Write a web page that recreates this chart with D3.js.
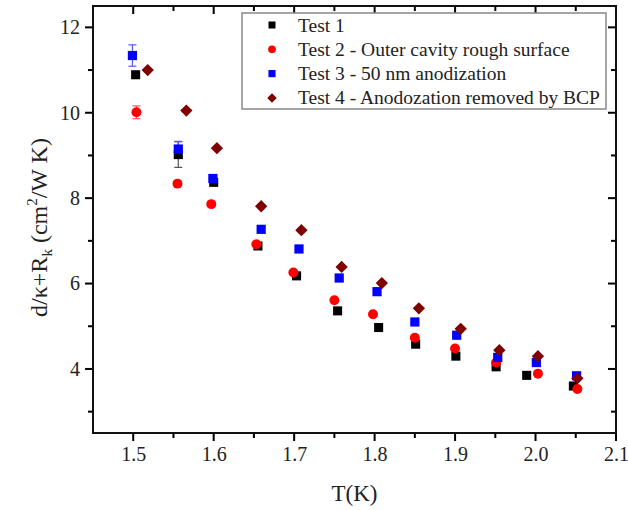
<!DOCTYPE html>
<html lang="en">
<head>
  <meta charset="UTF-8">
  <title>d/k+Rk vs T</title>
  <style>
    body { margin: 0; background: #fff; }
    svg text { font-family: 'Liberation Serif', 'Times New Roman', serif; fill: #222; }
  </style>
</head>
<body>
  <div class="canvas"></div>

  <script src="https://cdnjs.cloudflare.com/ajax/libs/d3/7.8.5/d3.min.js"></script>
  <script>
// data
const test1T = [1.503, 1.556, 1.600, 1.655, 1.703, 1.754, 1.805, 1.851, 1.901, 1.951, 1.989, 2.047];
const test1Y = [10.89, 9.02, 8.37, 6.88, 6.18, 5.36, 4.97, 4.58, 4.30, 4.05, 3.85, 3.60];
const test1Err = [0.05, 0.30, 0.05, 0, 0, 0, 0, 0, 0, 0, 0, 0];

const test2T = [1.504, 1.555, 1.597, 1.653, 1.699, 1.750, 1.798, 1.850, 1.900, 1.951, 2.003, 2.052];
const test2Y = [10.01, 8.34, 7.86, 6.92, 6.26, 5.61, 5.28, 4.73, 4.48, 4.15, 3.89, 3.53];
const test2Err = [0.15, 0, 0, 0, 0, 0, 0, 0, 0, 0, 0, 0];

const test3T = [1.499, 1.556, 1.599, 1.659, 1.706, 1.756, 1.803, 1.850, 1.902, 1.953, 2.001, 2.051];
const test3Y = [11.34, 9.15, 8.46, 7.27, 6.81, 6.13, 5.81, 5.10, 4.79, 4.27, 4.15, 3.84];
const test3Err = [0.25, 0.18, 0, 0, 0, 0, 0, 0, 0, 0, 0, 0];

const test4T = [1.518, 1.566, 1.604, 1.659, 1.709, 1.759, 1.809, 1.855, 1.907, 1.955, 2.003, 2.052];
const test4Y = [11.00, 10.05, 9.17, 7.81, 7.25, 6.39, 6.01, 5.42, 4.94, 4.44, 4.30, 3.78];

const seriesNames = [
  'Test 1',
  'Test 2 - Outer cavity rough surface',
  'Test 3 - 50 nm anodization',
  'Test 4 - Anodozation removed by BCP'
];
const xTicks = [1.5, 1.6, 1.7, 1.8, 1.9, 2.0, 2.1];
const xMinor = [1.55, 1.65, 1.75, 1.85, 1.95, 2.05];
const yTicks = [4, 6, 8, 10, 12];
const yMinor = [3, 5, 7, 9, 11];

const colors = ['#000000', '#ff0000', '#0000ff', '#800000'];
const errColors = ['#555555', '#ff5555', '#5555ff', '#800000'];
// diamond = square turned 45 degrees
const shapes = [d3.symbolSquare, d3.symbolCircle, d3.symbolSquare, d3.symbolSquare];
const turns = [0, 0, 0, 45];
const sizes = [82, 78, 85, 76];

const series = [
  { t: test1T, y: test1Y, err: test1Err },
  { t: test2T, y: test2Y, err: test2Err },
  { t: test3T, y: test3Y, err: test3Err },
  { t: test4T, y: test4Y, err: test4Y.map(() => 0) }
];

const width = 628, height = 510;
const margin = { left: 93, right: 12, top: 6, bottom: 77 };

const svg = d3.select('.canvas').append('svg')
  .attr('width', width)
  .attr('height', height);

const x = d3.scaleLinear().domain([1.45, 2.1]).range([margin.left, width - margin.right]);
const y = d3.scaleLinear().domain([2.5, 12.5]).range([height - margin.bottom, margin.top]);

const x0 = margin.left, x1 = width - margin.right;
const y0 = height - margin.bottom, y1 = margin.top;

// tick labels from d3 axes
const gx = svg.append('g').attr('transform', `translate(0, ${y0})`)
  .call(d3.axisBottom(x).tickValues(xTicks).tickFormat(d3.format('.1f')).tickSize(0).tickPadding(14));
const gy = svg.append('g').attr('transform', `translate(${x0}, 0)`)
  .call(d3.axisLeft(y).tickValues(yTicks).tickFormat(d3.format('d')).tickSize(0).tickPadding(13));
[gx, gy].forEach(g => {
  g.select('.domain').remove();
  g.selectAll('.tick text').style('font-size', '20px').attr('fill', '#222');
});

// tick marks as small filled bars: outward on bottom/left, inward on top/right
const ticks = svg.append('g').attr('fill', '#000');
function xMarks(vals, len) {
  ticks.append('g').selectAll('rect').data(vals).join('rect')
    .attr('x', d => x(d) - 1).attr('y', y0).attr('width', 2).attr('height', len);
  ticks.append('g').selectAll('rect').data(vals).join('rect')
    .attr('x', d => x(d) - 1).attr('y', y1).attr('width', 2).attr('height', len);
}
function yMarks(vals, len) {
  ticks.append('g').selectAll('rect').data(vals).join('rect')
    .attr('x', x0 - len).attr('y', d => y(d) - 1).attr('width', len).attr('height', 2);
  ticks.append('g').selectAll('rect').data(vals).join('rect')
    .attr('x', x1 - len).attr('y', d => y(d) - 1).attr('width', len).attr('height', 2);
}
xMarks(xTicks, 8);
xMarks(xMinor, 5);
yMarks(yTicks, 8);
yMarks(yMinor, 5);

// frame
svg.append('rect')
  .attr('x', x0).attr('y', y1)
  .attr('width', x1 - x0).attr('height', y0 - y1)
  .attr('fill', 'none')
  .attr('stroke', '#111')
  .attr('stroke-width', 2);

// error bars
series.forEach((s, i) => {
  const g = svg.append('g');
  s.t.forEach((t, j) => {
    const e = s.err[j];
    if (!e) return;
    const cx = x(t);
    g.append('line')
      .attr('x1', cx).attr('x2', cx)
      .attr('y1', y(s.y[j] - e)).attr('y2', y(s.y[j] + e))
      .attr('stroke', errColors[i]).attr('stroke-width', 1.2);
    [s.y[j] - e, s.y[j] + e].forEach(v => {
      g.append('line')
        .attr('x1', cx - 4).attr('x2', cx + 4)
        .attr('y1', y(v)).attr('y2', y(v))
        .attr('stroke', errColors[i]).attr('stroke-width', 1.2);
    });
  });
});

// markers
series.forEach((s, i) => {
  svg.append('g').selectAll('path')
    .data(s.t.map((t, j) => [t, s.y[j]]))
    .join('path')
    .attr('transform', d => `translate(${x(d[0])}, ${y(d[1])}) rotate(${turns[i]})`)
    .attr('d', d3.symbol().type(shapes[i]).size(sizes[i]))
    .attr('fill', colors[i]);
});

// legend
const legend = svg.append('g');
legend.append('rect')
  .attr('x', 242).attr('y', 13)
  .attr('width', 364).attr('height', 96)
  .attr('fill', '#fff')
  .attr('stroke', '#888')
  .attr('stroke-width', 1.5);

seriesNames.forEach((name, i) => {
  const ly = 25 + i * 24.3;
  legend.append('path')
    .attr('transform', `translate(272, ${ly}) rotate(${turns[i]})`)
    .attr('d', d3.symbol().type(shapes[i]).size(sizes[i] * 0.6))
    .attr('fill', colors[i]);
  legend.append('text')
    .attr('x', 298).attr('y', ly + 6.5)
    .style('font-size', '19.5px')
    .text(name);
});

// axis titles
svg.append('text')
  .attr('x', (x0 + x1) / 2).attr('y', 501)
  .attr('text-anchor', 'middle')
  .style('font-size', '23px')
  .text('T(K)');

const yl = svg.append('text')
  .attr('transform', `translate(47, ${(y0 + y1) / 2 + 8}) rotate(-90)`)
  .attr('text-anchor', 'middle')
  .style('font-size', '24px');
yl.append('tspan').text('d/\u03ba+R');
yl.append('tspan').attr('dy', 5).style('font-size', '15px').text('k');
yl.append('tspan').attr('dy', -5).text(' (cm');
yl.append('tspan').attr('dy', -10).style('font-size', '15px').text('2');
yl.append('tspan').attr('dy', 10).text('/W K)');
  </script>
</body>
</html>
